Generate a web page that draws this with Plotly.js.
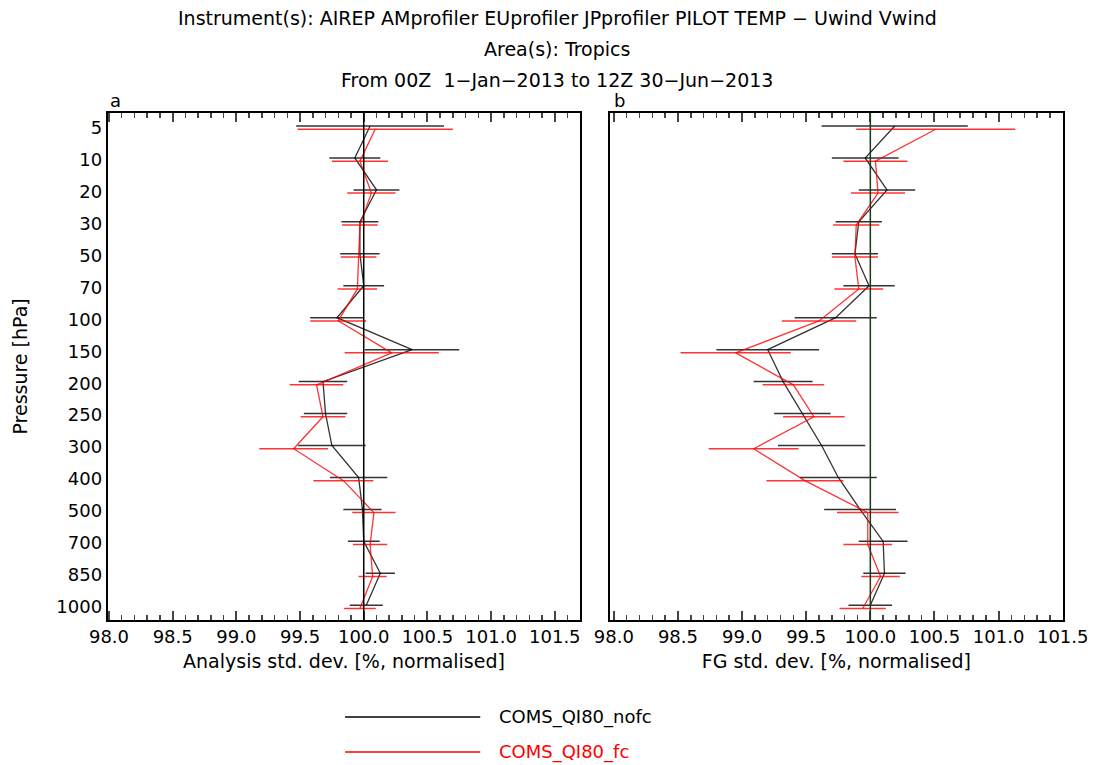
<!DOCTYPE html>
<html>
<head>
<meta charset="utf-8">
<script src="https://cdn.plot.ly/plotly-3.0.1.min.js"></script>
<style>body{margin:0;background:#fff}</style>
</head>
<body>
<div id="plot" style="width:1099px;height:765px"></div>
<script>
var levels = ['5','10','20','30','50','70','100','150','200','250','300','400','500','700','850','1000'];

// panel a: analysis std. dev.
var a_nofc = [100.05,99.93,100.10,99.97,99.97,100.0,99.79,100.38,99.68,99.70,99.75,99.96,99.99,100.0,100.13,100.02];
var a_nofc_err = [0.58,0.20,0.18,0.145,0.155,0.16,0.21,0.37,0.19,0.17,0.265,0.225,0.15,0.125,0.115,0.13];
var a_fc = [100.09,99.97,100.06,99.97,99.96,99.95,99.80,100.22,99.63,99.68,99.45,99.84,100.08,100.05,100.07,99.97];
var a_fc_err = [0.61,0.22,0.19,0.14,0.14,0.155,0.22,0.37,0.21,0.175,0.27,0.235,0.17,0.135,0.11,0.125];

// panel b: FG std. dev.
var b_nofc = [100.19,99.96,100.13,99.91,99.88,99.99,99.73,99.20,99.32,99.47,99.62,99.75,99.92,100.10,100.11,100.0];
var b_nofc_err = [0.57,0.26,0.22,0.18,0.18,0.20,0.32,0.40,0.23,0.22,0.34,0.30,0.28,0.19,0.165,0.17];
var b_fc = [100.51,100.04,100.06,99.89,99.88,99.91,99.60,98.95,99.40,99.56,99.09,99.49,99.98,99.98,100.08,99.94];
var b_fc_err = [0.62,0.25,0.21,0.18,0.18,0.19,0.29,0.43,0.24,0.24,0.35,0.30,0.24,0.19,0.15,0.18];

var xticks = [98.0,98.5,99.0,99.5,100.0,100.5,101.0,101.5];
var xlabels = xticks.map(function(v){ return v.toFixed(1); });

function idx(off){ return levels.map(function(l,i){ return i + off; }); }

function trace(x, err, off, color, xa, ya, name){
   return {
      name: name,
      x: x,
      y: idx(off),
      mode: 'lines',
      xaxis: xa,
      yaxis: ya,
      showlegend: false,
      line: {width: 1.3, color: color},
      error_x: {type: 'data', array: err, visible: true, color: color, thickness: 1.5, width: 0}
   };
}

var traces = [
   trace(a_nofc, a_nofc_err, -0.05, 'rgba(0,0,0,0.8)', 'x', 'y', 'COMS_QI80_nofc'),
   trace(a_fc, a_fc_err, 0.05, 'rgba(255,0,0,0.8)', 'x', 'y', 'COMS_QI80_fc'),
   trace(b_nofc, b_nofc_err, -0.05, 'rgba(0,0,0,0.8)', 'x2', 'y2', 'COMS_QI80_nofc'),
   trace(b_fc, b_fc_err, 0.05, 'rgba(255,0,0,0.8)', 'x2', 'y2', 'COMS_QI80_fc')
];

var fam = 'DejaVu Sans, sans-serif';
var font = {family: fam, size: 18, color: '#000'};
var big = {family: fam, size: 19, color: '#000'};

function xaxis(dom, range, anchor, title){
   return {
      domain: dom, range: range, anchor: anchor,
      tickvals: xticks, ticktext: xlabels,
      ticks: 'inside', ticklen: 9, tickwidth: 2, mirror: 'allticks',
      minor: {dtick: 0.1, ticks: 'inside', ticklen: 5, tickwidth: 1.5},
      showline: true, linewidth: 2, linecolor: '#000',
      showgrid: false, zeroline: false,
      tickfont: font,
      title: {text: title, font: big, standoff: 8}
   };
}
function yaxis(dom, anchor, labels){
   return {
      domain: dom, range: [15.4, -0.45], anchor: anchor,
      tickvals: idx(0), ticktext: levels, showticklabels: labels,
      ticks: '', showline: true, linewidth: 2, linecolor: '#000', mirror: true,
      showgrid: false, zeroline: false,
      tickfont: font,
      title: {text: labels ? 'Pressure [hPa]' : '', font: big, standoff: 24}
   };
}

function note(text, x, y, anchor, color, size){
   return {text: text, x: x, y: 1 - y/765, xref: 'paper', yref: 'paper', xanchor: anchor, yanchor: 'middle',
      showarrow: false, font: {family: fam, size: size || 18, color: color || '#000'}};
}

var layout = {
   width: 1099, height: 765,
   margin: {l: 0, r: 0, t: 0, b: 0},
   paper_bgcolor: '#fff', plot_bgcolor: '#fff',
   font: font,
   xaxis: xaxis([0.098, 0.528], [97.99, 101.7], 'y', 'Analysis std. dev. [%, normalised]'),
   yaxis: yaxis([0.19, 0.852], 'x', true),
   xaxis2: xaxis([0.555, 0.967], [97.97, 101.5], 'y2', 'FG std. dev. [%, normalised]'),
   yaxis2: yaxis([0.19, 0.852], 'x2', false),
   shapes: [
      {type: 'line', xref: 'x', yref: 'paper', x0: 100, x1: 100, y0: 0.19, y1: 0.852, line: {color: '#000', width: 1.5}},
      {type: 'line', xref: 'x2', yref: 'paper', x0: 100, x1: 100, y0: 0.19, y1: 0.852, line: {color: '#1a3a1a', width: 1.5}},
      {type: 'line', xref: 'paper', yref: 'paper', x0: 0.314, x1: 0.437, y0: 1 - 717/765, y1: 1 - 717/765, line: {color: '#000', width: 1.3}},
      {type: 'line', xref: 'paper', yref: 'paper', x0: 0.314, x1: 0.437, y0: 1 - 752/765, y1: 1 - 752/765, line: {color: '#ff0000', width: 1.3}}
   ],
   annotations: [
      note('Instrument(s): AIREP AMprofiler EUprofiler JPprofiler PILOT TEMP \u2212 Uwind Vwind', 0.507, 18, 'center', null, 19),
      note('Area(s): Tropics', 0.507, 49, 'center', null, 19),
      note('From 00Z  1\u2212Jan\u22122013 to 12Z 30\u2212Jun\u22122013', 0.507, 80, 'center', null, 19),
      note('a', 0.098, 101, 'left'),
      note('b', 0.557, 101, 'left'),
      note('COMS_QI80_nofc', 0.452, 717, 'left'),
      note('COMS_QI80_fc', 0.452, 752, 'left', '#ff0000')
   ]
};

Plotly.newPlot('plot', traces, layout, {displayModeBar: false, staticPlot: true});
</script>
</body>
</html>
